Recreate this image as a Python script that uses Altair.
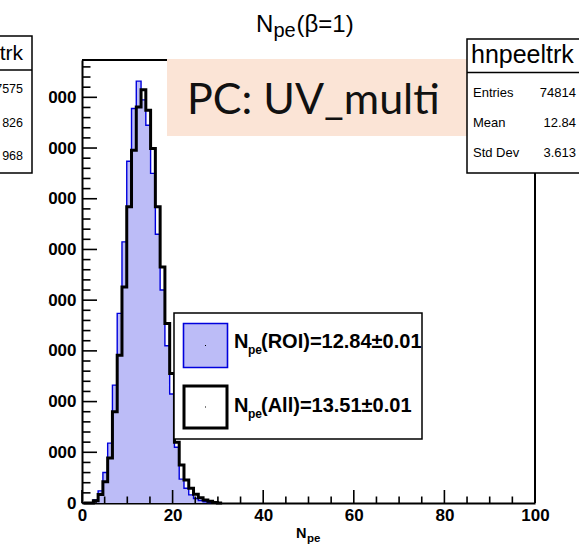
import altair as alt
import pandas as pd

# ---------------- data ----------------
FIRST_EDGE = 0.4      # lower edge of first bin (N_pe units)
BIN_WIDTH = 1.053     # bin width (N_pe units)

roi_counts = [0, 0, 60, 240, 600, 1180, 2325, 3740, 5150, 6740, 7780, 8320,
              7950, 7450, 6500, 5300, 4200, 3100, 2150, 1100, 470, 290, 160,
              90, 50, 25, 10, 0]
all_counts = [0, 0, 45, 170, 420, 885, 1800, 2915, 4260, 5840, 6955, 7810,
              8150, 7745, 6990, 5840, 4655, 3540, 2555, 1200, 749, 453, 290,
              171, 105, 59, 35, 12, 0]

X_TICKS = [0, 20, 40, 60, 80, 100]
X_MINOR = [5, 10, 15, 25, 30, 35, 45, 50, 55, 65, 70, 75, 85, 90, 95]
Y_TICKS = [0, 1000, 2000, 3000, 4000, 5000, 6000, 7000, 8000]
Y_MINOR = [v for v in range(200, 8601, 200) if v % 1000]
Y_MAX = 8736

title_main = "N"
title_sub = "pe"
title_rest = "(β=1)"
xtitle_main = "N"
xtitle_sub = "pe"

stats_name = "hnpeeltrk"
stats_rows = ["Entries", "Mean", "Std Dev"]
stats_vals = ["74814", "12.84", "3.613"]

legend_rest = ["(ROI)=12.84±0.01", "(All)=13.51±0.01"]
pc_label = "PC: UV_multi"

nb_name = "trk"
nb_vals = ["7575", "826", "968"]

# ---------------- layout ----------------
OX, OY = 82, 60
W, H = 453, 443
FONT = "Liberation Sans"
BLUE = "#0000dd"
BLUE_FILL = "#bcbcf7"

xs = alt.Scale(domain=[0, 100], nice=False, zero=False)
ys = alt.Scale(domain=[0, Y_MAX], nice=False, zero=True)


def edges(n):
    return [FIRST_EDGE + BIN_WIDTH * k for k in range(n + 1)]


e_roi = edges(len(roi_counts))
e_all = edges(len(all_counts))
roi_step = pd.DataFrame({"x": e_roi, "n": roi_counts + [0]})
all_step = pd.DataFrame({"x": e_all, "n": all_counts + [0]})

one = pd.DataFrame({"a": [0]})


def txt(s, x, y, size, weight="normal", align="left", font=FONT, color="black"):
    return alt.Chart(pd.DataFrame({"t": [s]})).mark_text(
        align=align, baseline="alphabetic", font=font, fontSize=size,
        fontWeight=weight, color=color
    ).encode(text="t:N", x=alt.value(x - OX), y=alt.value(y - OY))


def box(x0, y0, x1, y1, fill, stroke=None, sw=0):
    kw = dict(fill=fill)
    if stroke:
        kw.update(stroke=stroke, strokeWidth=sw)
    else:
        kw.update(strokeWidth=0)
    return alt.Chart(one).mark_rect(**kw).encode(
        x=alt.value(x0 - OX), x2=alt.value(x1 - OX),
        y=alt.value(y0 - OY), y2=alt.value(y1 - OY))


def hline(x0, x1, y, color="black", sw=1.5):
    return alt.Chart(one).mark_rule(color=color, strokeWidth=sw).encode(
        x=alt.value(x0 - OX), x2=alt.value(x1 - OX), y=alt.value(y - OY))


def vline(x, y0, y1, color="black", sw=1.5):
    return alt.Chart(one).mark_rule(color=color, strokeWidth=sw).encode(
        x=alt.value(x - OX), y=alt.value(y0 - OY), y2=alt.value(y1 - OY))


# histograms
roi_fill = alt.Chart(roi_step).mark_area(
    interpolate="step-after", color=BLUE_FILL, opacity=1
).encode(
    x=alt.X("x:Q", scale=xs, title=None,
            axis=alt.Axis(values=X_TICKS, format="d")),
    y=alt.Y("n:Q", scale=ys, title=None,
            axis=alt.Axis(values=Y_TICKS, format="d")),
)
roi_line = alt.Chart(roi_step).mark_line(
    interpolate="step-after", color=BLUE, strokeWidth=1.4
).encode(x=alt.X("x:Q", scale=xs), y=alt.Y("n:Q", scale=ys))
all_line = alt.Chart(all_step).mark_line(
    interpolate="step-after", color="black", strokeWidth=3
).encode(x=alt.X("x:Q", scale=xs), y=alt.Y("n:Q", scale=ys))

# inward ticks
xt_major = alt.Chart(pd.DataFrame({"v": X_TICKS})).mark_rule(
    color="black", strokeWidth=1.6).encode(
    x=alt.X("v:Q", scale=xs), y=alt.value(H), y2=alt.value(H - 13))
xt_minor = alt.Chart(pd.DataFrame({"v": X_MINOR})).mark_rule(
    color="black", strokeWidth=1.6).encode(
    x=alt.X("v:Q", scale=xs), y=alt.value(H), y2=alt.value(H - 6.5))
yt_major = alt.Chart(pd.DataFrame({"v": Y_TICKS})).mark_rule(
    color="black", strokeWidth=1.6).encode(
    y=alt.Y("v:Q", scale=ys), x=alt.value(0), x2=alt.value(15))
yt_minor = alt.Chart(pd.DataFrame({"v": Y_MINOR})).mark_rule(
    color="black", strokeWidth=1.6).encode(
    y=alt.Y("v:Q", scale=ys), x=alt.value(0), x2=alt.value(8.5))

# frame (top and right)
frame = [hline(OX, OX + W, OY, sw=2), vline(OX + W, OY, OY + H, sw=2)]

# legend
legend = [
    box(174, 313, 422, 439, "white", "black", 1.5),
    box(183.5, 323.5, 227.5, 367.5, BLUE_FILL, BLUE, 1.6),
    box(184, 386, 227, 428, "white", "black", 3),
    box(205, 345, 206, 346, "black"),
    box(205, 406.5, 206, 407.5, "black"),
    txt("N", 234, 348, 20, "bold"),
    txt("pe", 248, 354, 12, "bold"),
    txt(legend_rest[0], 261, 348, 20, "bold"),
    txt("N", 234, 411.5, 20, "bold"),
    txt("pe", 248, 417.5, 12, "bold"),
    txt(legend_rest[1], 261, 411.5, 20, "bold"),
]

# PC label box
pc = [
    box(167, 59, 470, 136, "#fbe4d6"),
    txt(pc_label, 187, 114, 43, font="Lato", color="#111111"),
]

# stats box (right)
stats = [
    box(467, 39, 600, 173, "white", "black", 1.5),
    hline(467, 600, 72.5),
    txt(stats_name, 471, 63, 25),
]
for i, (lab, val) in enumerate(zip(stats_rows, stats_vals)):
    yb = [96.5, 127, 157][i]
    stats.append(txt(lab, 473, yb, 13))
    stats.append(txt(val, 576, yb, 13, align="right"))

# title
title = [
    txt(title_main, 256, 32, 24),
    txt(title_sub, 273.5, 36.5, 20),
    txt(title_rest, 296.5, 32, 24),
]

# x axis title
xtitle = [
    txt(xtitle_main, 296, 538, 14.5, "bold"),
    txt(xtitle_sub, 307, 542, 11.5, "bold"),
]

# neighbouring pad (cut off at the left edge)
neighbour = [
    box(-10, -10, 48.5, 564, "white"),
    box(-5, 36, 32, 173, "white", "black", 1.5),
    hline(-5, 32, 70),
    txt(nb_name, 23, 60, 21, align="right"),
    txt(nb_vals[0], 23, 93, 12.5, align="right"),
    txt(nb_vals[1], 23, 127, 12.5, align="right"),
    txt(nb_vals[2], 23, 160, 12.5, align="right"),
]

chart = alt.layer(
    roi_fill, roi_line, all_line,
    xt_major, xt_minor, yt_major, yt_minor,
    *frame, *legend, *pc, *stats, *title, *xtitle, *neighbour
).properties(
    width=W, height=H,
    padding={"left": OX, "top": OY, "right": 579 - OX - W, "bottom": 554 - OY - H},
    autosize=alt.AutoSizeParams(type="none"),
    background="white",
).configure_view(
    stroke=None
).configure_axis(
    domainColor="black", domainWidth=2, ticks=False, tickSize=0, grid=False,
    labelFont=FONT, labelFontWeight="bold", labelFontSize=17,
    labelColor="black", labelFlush=False, labelOverlap=False, labelBound=False,
).configure_axisX(
    labelPadding=4
).configure_axisY(
    labelPadding=6
)

chart.save("out.html", embed_options={"renderer": "svg", "actions": False})
